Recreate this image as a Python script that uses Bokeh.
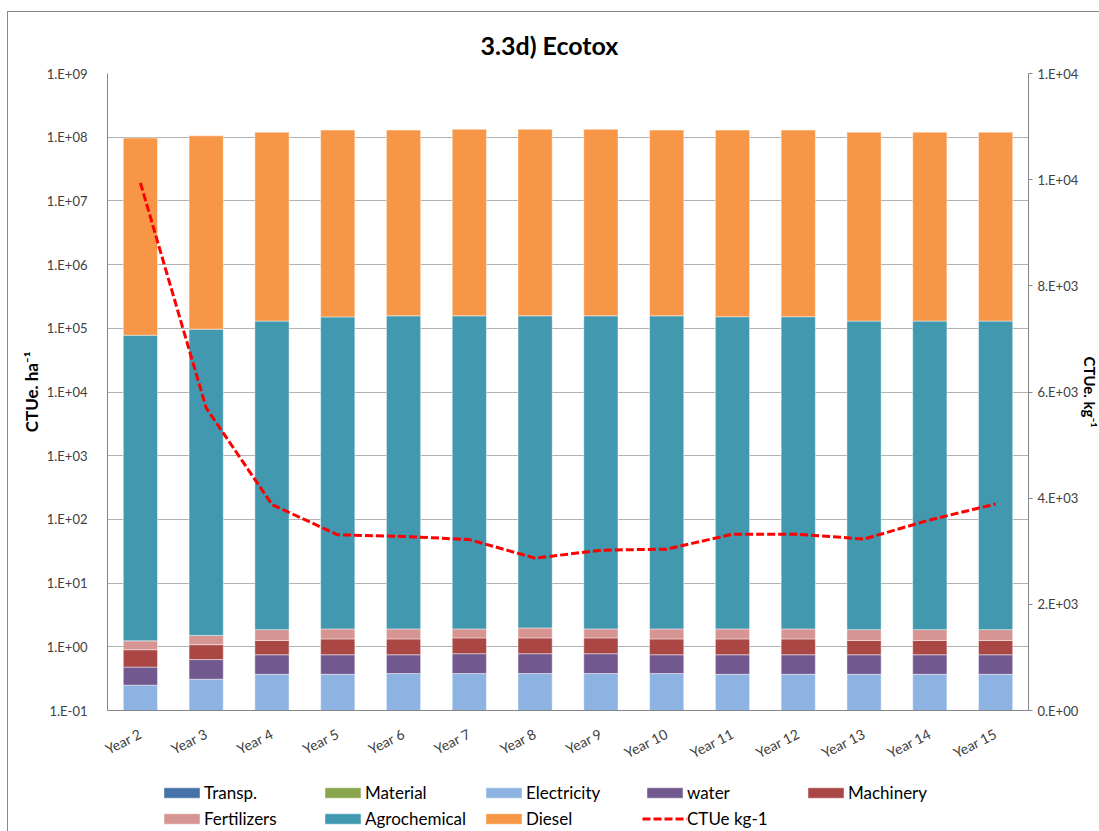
import numpy as np
from bokeh.plotting import figure
from bokeh.layouts import column
from bokeh.models import (Range1d, FactorRange, LinearAxis, LinearScale, FixedTicker,
                          CustomJSTickFormatter, Legend, LegendItem)
from bokeh.embed import file_html
from bokeh.resources import INLINE

# ---- data -------------------------------------------------------------
years = ["Year 2", "Year 3", "Year 4", "Year 5", "Year 6", "Year 7", "Year 8",
         "Year 9", "Year 10", "Year 11", "Year 12", "Year 13", "Year 14", "Year 15"]

# CTUe per hectare, by input (stacked from bottom to top)
transp = [0, 0, 0, 0, 0, 0, 0, 0, 0, 0, 0, 0, 0, 0]
material = [0, 0, 0, 0, 0, 0, 0, 0, 0, 0, 0, 0, 0, 0]
electricity = [0.25, 0.31, 0.37, 0.37, 0.38, 0.38, 0.38, 0.38, 0.38, 0.37, 0.37, 0.37, 0.37, 0.37]
water = [0.23, 0.32, 0.38, 0.38, 0.37, 0.40, 0.40, 0.40, 0.37, 0.38, 0.38, 0.38, 0.38, 0.38]
machinery = [0.42, 0.45, 0.51, 0.58, 0.58, 0.60, 0.60, 0.60, 0.58, 0.58, 0.58, 0.51, 0.51, 0.51]
fertilizers = [0.34, 0.43, 0.60, 0.58, 0.58, 0.53, 0.60, 0.53, 0.58, 0.58, 0.58, 0.60, 0.60, 0.60]
agrochemical = [7.8e4, 9.7e4, 1.30e5, 1.51e5, 1.57e5, 1.57e5, 1.57e5, 1.57e5, 1.57e5,
                1.52e5, 1.52e5, 1.30e5, 1.30e5, 1.30e5]
diesel = [9.7e7, 1.05e8, 1.20e8, 1.29e8, 1.29e8, 1.33e8, 1.33e8, 1.33e8, 1.29e8,
          1.29e8, 1.29e8, 1.20e8, 1.20e8, 1.20e8]

# CTUe per kg of product (right axis)
ctue_kg = [9940, 5700, 3880, 3310, 3280, 3220, 2870, 3020, 3040, 3320, 3320, 3230, 3590, 3890]

series_names = ["Transp.", "Material", "Electricity", "water", "Machinery",
                "Fertilizers", "Agrochemical", "Diesel"]
series_values = [transp, material, electricity, water, machinery, fertilizers, agrochemical, diesel]
series_colors = ["#4572a7", "#89a54e", "#8db3e2", "#71588f", "#aa4643",
                 "#d69592", "#4198af", "#f79646"]
line_name = "CTUe kg-1"

left_ticks = [1e-1, 1e0, 1e1, 1e2, 1e3, 1e4, 1e5, 1e6, 1e7, 1e8, 1e9]
left_tick_labels = ["1.E-01", "1.E+00", "1.E+01", "1.E+02", "1.E+03", "1.E+04",
                    "1.E+05", "1.E+06", "1.E+07", "1.E+08", "1.E+09"]
right_ticks = [0, 2000, 4000, 6000, 8000, 10000, 12000]
right_tick_labels = ["0.E+00", "2.E+03", "4.E+03", "6.E+03", "8.E+03", "1.E+04", "1.E+04"]

# ---- styles -------------------------------------------------------------
FONT = "Lato"
GRID = "#b2b2b2"
AXIS = "#868686"
TEXT = "#404040"
BAR_W = 0.52
LINE_STYLE = dict(line_color="#ff0000", line_width=3, line_dash="8 3")
BAR_EDGE = dict(line_color="white", line_alpha=0.45, line_width=1)

# ---- main chart -----------------------------------------------------------
p = figure(x_range=FactorRange(*years), y_range=Range1d(left_ticks[0], left_ticks[-1]),
           y_axis_type="log", frame_width=921, frame_height=637,
           min_border_left=99, min_border_right=71, min_border_top=61, min_border_bottom=58,
           output_backend="svg", toolbar_location=None, title="3.3d) Ecotox")
p.background_fill_color = "white"
p.border_fill_color = "white"
p.outline_line_color = None

p.title.text_font = FONT
p.title.text_font_size = "25px"
p.title.text_font_style = "bold"
p.title.text_color = "#000000"
p.title.align = "left"
p.title.offset = 373
p.title.standoff = 27

# secondary linear scale for the per-kg line
p.extra_y_ranges = {"kg": Range1d(right_ticks[0], right_ticks[-1])}
p.extra_y_scales = {"kg": LinearScale()}

# stacked bars: each segment spans the running total of the inputs below it
floor = left_ticks[0]
vals = np.array(series_values, dtype=float)
tops = np.cumsum(vals, axis=0)
bottoms = np.vstack([np.zeros(len(years)), tops[:-1]])
bottoms = np.maximum(bottoms, floor)

for name, color, bot, top in zip(series_names, series_colors, bottoms, tops):
    p.vbar(x=years, bottom=bot, top=np.maximum(top, floor), width=BAR_W,
           fill_color=color, **BAR_EDGE)

p.line(x=years, y=ctue_kg, y_range_name="kg", **LINE_STYLE)

# left (log) axis
p.yaxis.ticker = FixedTicker(ticks=left_ticks)
p.yaxis.formatter = CustomJSTickFormatter(args=dict(tvals=left_ticks, tlabels=left_tick_labels), code="""
    for (let i = 0; i < tvals.length; i++) {
        if (Math.abs(Math.log10(tvals[i]) - Math.log10(tick)) < 1e-6) return tlabels[i];
    }
    return "";
""")
p.yaxis.axis_label = "CTUe. ha\u207b\u00b9"
p.yaxis.axis_label_text_font = FONT
p.yaxis.axis_label_text_font_size = "17px"
p.yaxis.axis_label_text_font_style = "bold"
p.yaxis.axis_label_text_color = "#000000"
p.yaxis.axis_label_standoff = 2
p.yaxis.major_label_text_font = FONT
p.yaxis.major_label_text_font_size = "13px"
p.yaxis.major_label_text_color = TEXT
p.yaxis.major_label_standoff = 14
p.yaxis.axis_line_color = AXIS
p.yaxis.major_tick_line_color = None
p.yaxis.minor_tick_line_color = None

# right (linear) axis
right = LinearAxis(y_range_name="kg", ticker=FixedTicker(ticks=right_ticks))
right.formatter = CustomJSTickFormatter(args=dict(tvals=right_ticks, tlabels=right_tick_labels), code="""
    for (let i = 0; i < tvals.length; i++) {
        if (Math.abs(tvals[i] - tick) < 1e-6) return tlabels[i];
    }
    return "";
""")
right.axis_label = "CTUe. kg\u207b\u00b9"
right.axis_label_text_font = FONT
right.axis_label_text_font_size = "15px"
right.axis_label_text_font_style = "bold"
right.axis_label_text_color = "#000000"
right.axis_label_standoff = 0
right.major_label_text_font = FONT
right.major_label_text_font_size = "13px"
right.major_label_text_color = TEXT
right.major_label_standoff = 5
right.axis_line_color = AXIS
right.major_tick_line_color = AXIS
right.major_tick_out = 4
right.major_tick_in = 0
right.minor_tick_line_color = None
p.add_layout(right, "right")

p.xaxis.major_label_orientation = 0.47
p.xaxis.major_label_text_font = FONT
p.xaxis.major_label_text_font_size = "14px"
p.xaxis.major_label_text_color = TEXT
p.xaxis.axis_line_color = AXIS
p.xaxis.major_tick_line_color = None
p.xaxis.major_label_standoff = 16

p.xgrid.grid_line_color = None
p.ygrid.grid_line_color = GRID
p.ygrid.grid_line_width = 1
p.ygrid.minor_grid_line_color = None

# ---- legend strip -----------------------------------------------------------
# key swatches come from stand-in glyphs parked outside the strip's visible range
key = figure(x_range=Range1d(0, 1), y_range=Range1d(0, 1), frame_width=1091, frame_height=63,
             min_border=0, x_axis_location=None, y_axis_location=None,
             output_backend="svg", toolbar_location=None)
key.outline_line_color = None
key.background_fill_color = "white"
key.border_fill_color = "white"
key.grid.grid_line_color = None

items = []
for name, color in zip(series_names, series_colors):
    r = key.vbar(x=[-5], bottom=[-5], top=[-4], width=BAR_W, fill_color=color, **BAR_EDGE)
    items.append(LegendItem(label=name, renderers=[r]))
lr = key.line(x=[-5, -4], y=[-5, -5], **LINE_STYLE)
items.append(LegendItem(label=line_name, renderers=[lr]))

legend = Legend(items=items, orientation="horizontal", ncols=5,
                location=(151, 5), glyph_width=45, glyph_height=13,
                label_standoff=0, label_width=111, label_height=20, spacing=5,
                padding=0, margin=0, border_line_color=None, background_fill_alpha=0,
                label_text_font=FONT, label_text_font_size="17px", label_text_color="#000000")
key.add_layout(legend, "center")

page = column(p, key, spacing=0)
page.styles = {"margin-left": "7px", "margin-top": "11px",
               "border-left": "1px solid #8a8a8a", "border-top": "1px solid #8a8a8a"}

open("out.html", "w").write(file_html(page, INLINE))
